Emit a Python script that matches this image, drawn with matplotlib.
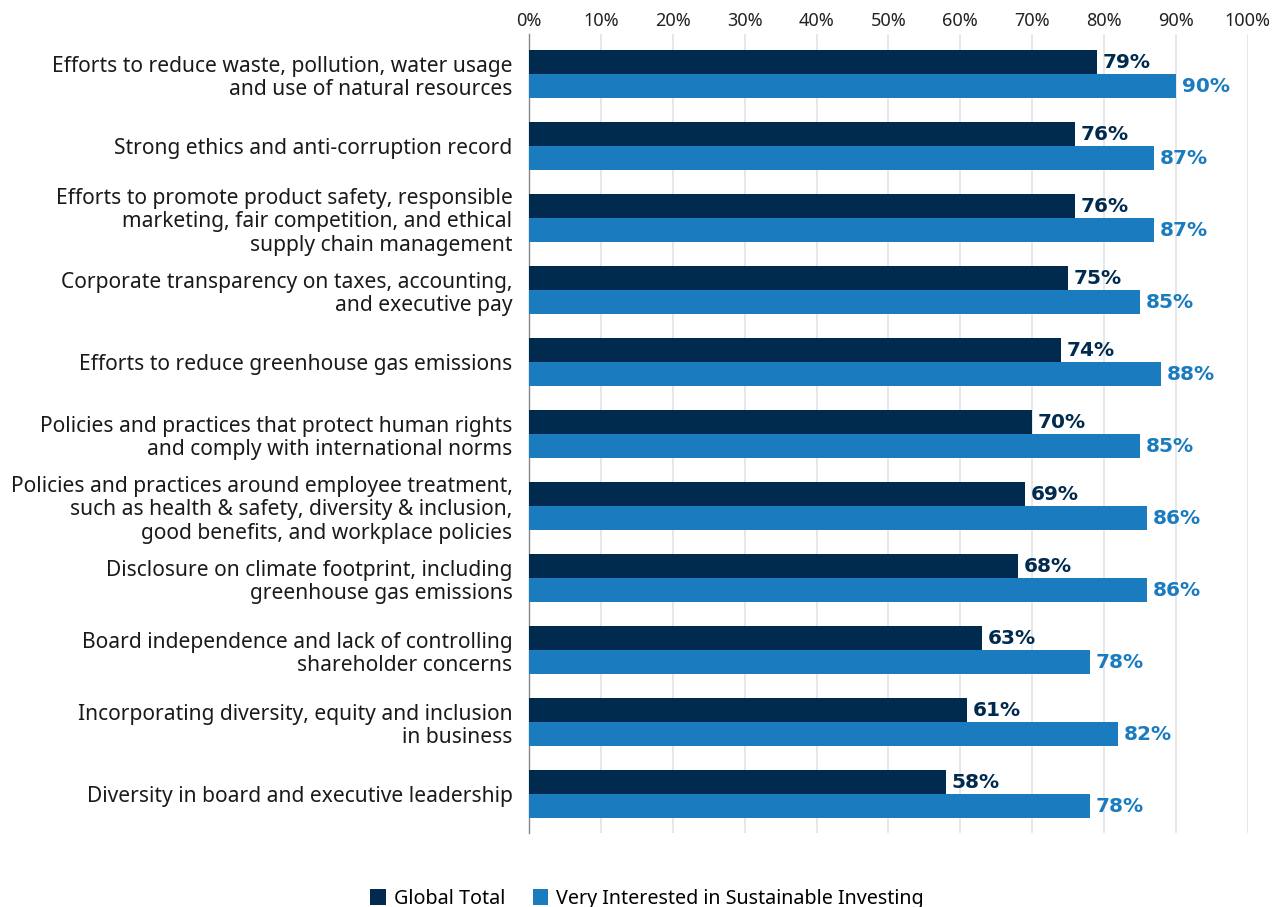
import matplotlib
matplotlib.use('Agg')
import matplotlib.pyplot as plt
import numpy as np
from matplotlib.patches import Patch

plt.rcParams['font.family'] = ['Noto Sans', 'DejaVu Sans']

DARK = '#002b4f'
LIGHT = '#1a7bbf'

categories = [
    'Efforts to reduce waste, pollution, water usage\nand use of natural resources',
    'Strong ethics and anti-corruption record',
    'Efforts to promote product safety, responsible\nmarketing, fair competition, and ethical\nsupply chain management',
    'Corporate transparency on taxes, accounting,\nand executive pay',
    'Efforts to reduce greenhouse gas emissions',
    'Policies and practices that protect human rights\nand comply with international norms',
    'Policies and practices around employee treatment,\nsuch as health & safety, diversity & inclusion,\ngood benefits, and workplace policies',
    'Disclosure on climate footprint, including\ngreenhouse gas emissions',
    'Board independence and lack of controlling\nshareholder concerns',
    'Incorporating diversity, equity and inclusion\nin business',
    'Diversity in board and executive leadership',
]
global_total = [79, 76, 76, 75, 74, 70, 69, 68, 63, 61, 58]
very_interested = [90, 87, 87, 85, 88, 85, 86, 86, 78, 82, 78]
series_names = ['Global Total', 'Very Interested in Sustainable Investing']

fig = plt.figure(figsize=(12.81, 9.07), dpi=100)
# axes spans x 529..1248 px, y 34..833 px
ax = fig.add_axes([0.413, 0.0816, 0.561, 0.8809])

y = np.arange(len(categories))
h = 0.333
ax.barh(y - h / 2, global_total, height=h, color=DARK, zorder=3)
ax.barh(y + h / 2, very_interested, height=h, color=LIGHT, zorder=3)

label_font = dict(family=['DejaVu Sans'], fontsize=14.5, fontweight='bold')
for yi, v in zip(y, global_total):
    ax.text(v + 0.8, yi - h / 2, f'{v}%', va='center', ha='left',
            color=DARK, **label_font)
for yi, v in zip(y, very_interested):
    ax.text(v + 0.8, yi + h / 2, f'{v}%', va='center', ha='left',
            color=LIGHT, **label_font)

ax.set_xlim(0, 100)
ax.set_ylim(len(categories) - 0.46, -0.556)
ax.set_xticks(np.arange(0, 101, 10))
ax.set_xticklabels([f'{t}%' for t in range(0, 101, 10)])
ax.xaxis.tick_top()
ax.tick_params(axis='x', length=0, labelsize=13, colors='#222222', pad=3)
ax.set_yticks(y)
ax.set_yticklabels(categories, fontsize=15.1, color='#1a1a1a', linespacing=1.17)
ax.tick_params(axis='y', length=0, pad=12)

ax.grid(axis='x', color='#e3e3e3', linewidth=1.2, zorder=0)
for s in ['top', 'right', 'bottom']:
    ax.spines[s].set_visible(False)
ax.spines['left'].set_color('#888888')
ax.spines['left'].set_linewidth(1.0)

handles = [Patch(facecolor=DARK, label=series_names[0]),
           Patch(facecolor=LIGHT, label=series_names[1])]
fig.legend(handles=handles, loc='center', bbox_to_anchor=(0.505, 0.009),
           ncol=2, frameon=False, fontsize=14.2, handlelength=0.8,
           handleheight=0.8, handletextpad=0.4, columnspacing=1.4)

fig.savefig('out.png', dpi=100)
